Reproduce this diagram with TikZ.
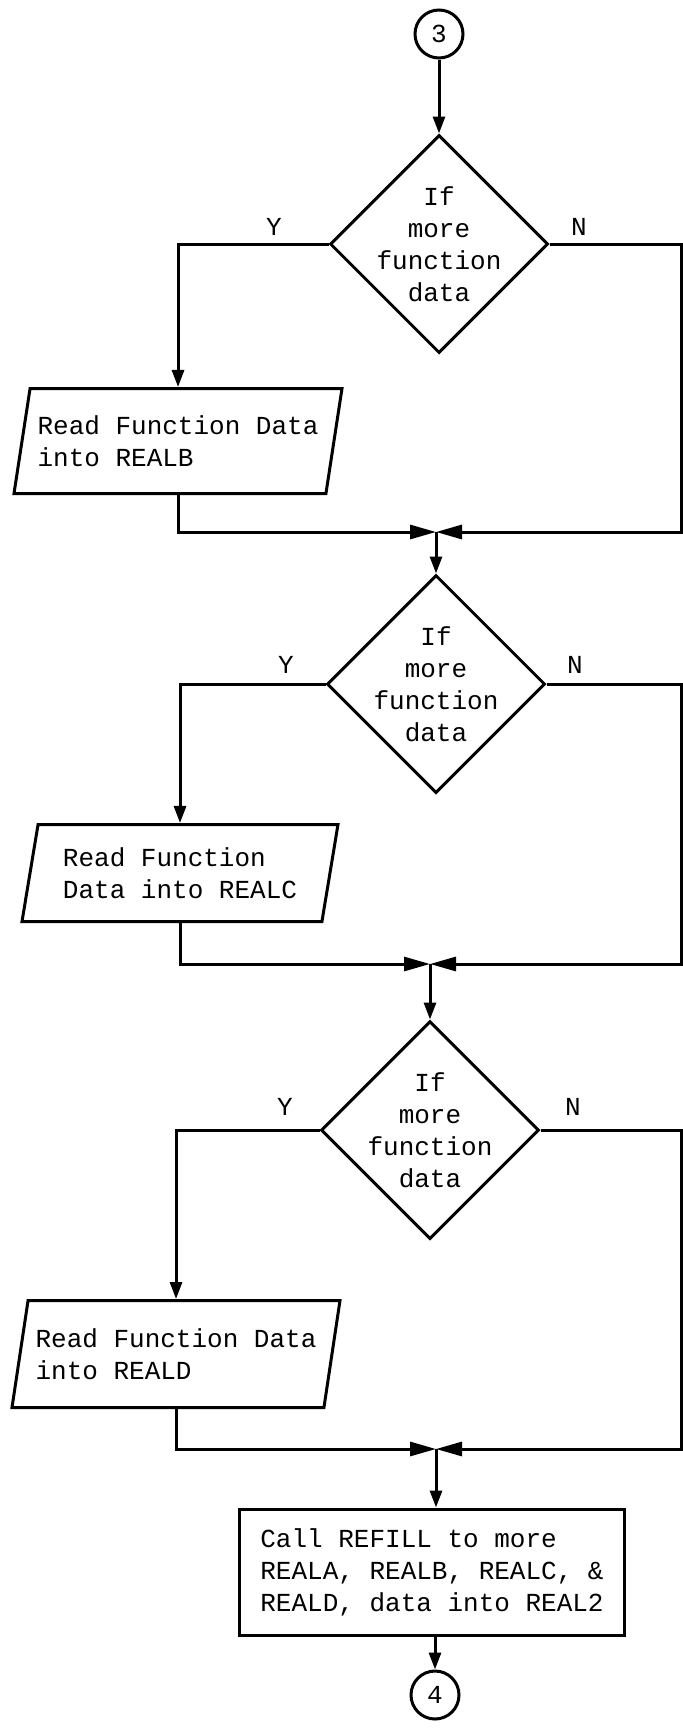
\documentclass[tikz,border=0pt]{standalone}
\usepackage{fontspec}
\setmonofont{Liberation Mono}
\usetikzlibrary{arrows.meta, shapes.geometric, positioning}

\begin{document}
\begin{tikzpicture}[x=0.5pt, y=-0.5pt,
	font=\ttfamily\fontsize{13}{16}\selectfont, line width=1.5pt,
	dec/.style={diamond, draw, minimum width=109pt, minimum height=109pt, inner sep=0pt},
	io/.style={trapezium, trapezium left angle=76, trapezium right angle=104,
		trapezium stretches body, draw, align=left, minimum width=164pt, minimum height=52.5pt},
	proc/.style={rectangle, draw, align=left, minimum width=192.5pt, minimum height=63pt},
	conn/.style={circle, draw, minimum size=24pt, inner sep=0pt},
	arr/.style={-{Triangle[length=8.5pt, width=6pt]}},
	mergearr/.style={-{Triangle[length=13pt, width=7pt]}}]
	\useasboundingbox (0,0) rectangle (683,1729);
	% entry
	\node[conn] (c3) at (439,34) {3};
	% test 1
	\node[dec] (d1) at (439,244) {};
	\node[align=center] (q1) at (d1) {If\\more\\function\\data};
	\node (y1) at (274,227) {Y};
	\node (n1) at (579,227) {N};
	\node[io] (p1) at (178,441) {Read Function Data\\into REALB};
	\coordinate (m1) at (436,532);
	\coordinate (r1) at (681,532);
	\draw[arr] (c3) -- (d1.north);
	\draw[arr] (d1.west) -| (p1.north);
	\draw[mergearr] (p1.south) |- (m1);
	\draw[mergearr] (d1.east) -| (r1) -- (m1);
	% test 2
	\node[dec] (d2) at (436,684) {};
	\node[align=center] (q2) at (d2) {If\\more\\function\\data};
	\node (y2) at (286,665) {Y};
	\node (n2) at (575,665) {N};
	\node[io, minimum width=158pt, minimum height=48.5pt] (p2) at (180,873) {Read Function\\Data into REALC};
	\coordinate (m2) at (430,964);
	\coordinate (r2) at (681,964);
	\draw[arr] (m1) -- (d2.north);
	\draw[arr] (d2.west) -| (p2.north);
	\draw[mergearr] (p2.south) |- (m2);
	\draw[mergearr] (d2.east) -| (r2) -- (m2);
	% test 3
	\node[dec] (d3) at (430,1130) {};
	\node[align=center] (q3) at (d3) {If\\more\\function\\data};
	\node (y3) at (285,1107) {Y};
	\node (n3) at (573,1107) {N};
	\node[io, minimum height=53.5pt] (p3) at (176,1354) {Read Function Data\\into REALD};
	\coordinate (m3) at (436,1449);
	\coordinate (r3) at (681,1449);
	\draw[arr] (m2) -- (d3.north);
	\draw[arr] (d3.west) -| (p3.north);
	\draw[mergearr] (p3.south) |- (m3);
	\draw[mergearr] (d3.east) -| (r3) -- (m3);
	% refill and exit
	\node[proc] (refill) at (432,1572) {Call REFILL to more\\REALA, REALB, REALC, \&\\REALD, data into REAL2};
	\node[conn] (c4) at (435,1695) {4};
	\draw[arr] (m3) -- (m3 |- refill.north);
	\draw[arr] (refill.south -| c4) -- (c4);
\end{tikzpicture}
\end{document}
